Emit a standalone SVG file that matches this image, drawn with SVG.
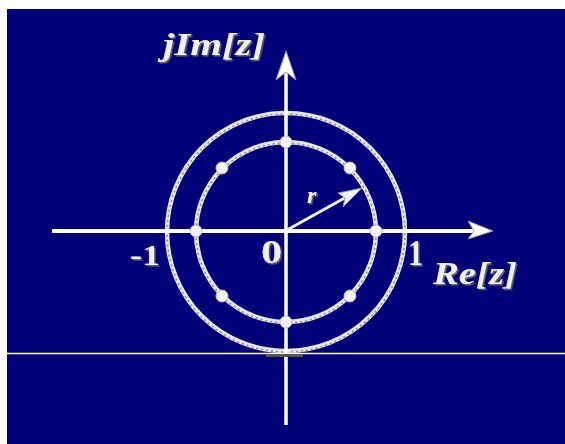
<svg xmlns="http://www.w3.org/2000/svg" width="565" height="444" viewBox="0 0 565 444">
<defs>
<filter id="ds" x="-10%" y="-10%" width="130%" height="130%">
<feDropShadow dx="1.5" dy="1.5" stdDeviation="0.4" flood-color="#6a6a6a" flood-opacity="1"/>
</filter>
</defs>
<style>
.ax{stroke:#ffffff;stroke-width:4;fill:none}
.circ{fill:none;stroke:#e6e6e6;stroke-width:4.5}
.shade{fill:none;stroke:#8a8a8a;stroke-width:1.5;stroke-dasharray:2 3}
.dot{fill:#f2f2f2;stroke:#bdbdbd;stroke-width:1}
.lbl{font-family:"Liberation Serif",serif;font-weight:bold;fill:#f0f0f0;filter:url(#ds)}
.it{font-style:italic}
</style>
<rect x="0" y="0" width="565" height="444" fill="#ffffff"/>
<rect x="7" y="9" width="558" height="435" fill="#000078"/>
<line x1="7" y1="353.5" x2="565" y2="353.5" stroke="#ffffff" stroke-width="1.5"/>
<g id="circles">
<circle class="circ" cx="286" cy="232" r="119"/>
<circle class="shade" cx="286" cy="233" r="119"/>
<circle class="circ" cx="286" cy="232" r="90"/>
<circle class="shade" cx="286" cy="233" r="90"/>
</g>
<g id="axes">
<line class="ax" x1="52" y1="231" x2="480" y2="231"/>
<polygon points="493,231 468,221 474,231 468,239" fill="#ffffff" stroke="#9a9a9a" stroke-width="1"/>
<line class="ax" style="stroke-width:3.5" x1="286" y1="68" x2="286" y2="425"/>
<polygon points="286,51 276,80 286,72 296,80" fill="#ffffff" stroke="#9a9a9a" stroke-width="1"/>
<rect x="266" y="354" width="37" height="3" fill="#555555"/>
</g>
<g id="points">
<circle class="dot" cx="286" cy="142" r="6"/>
<circle class="dot" cx="350" cy="168" r="6"/>
<circle class="dot" cx="376" cy="231" r="6"/>
<circle class="dot" cx="350" cy="296" r="6"/>
<circle class="dot" cx="286" cy="322" r="6"/>
<circle class="dot" cx="222" cy="296" r="6"/>
<circle class="dot" cx="196" cy="231" r="6"/>
<circle class="dot" cx="222" cy="168" r="6"/>
</g>
<g id="radius">
<line x1="287" y1="230" x2="350" y2="195" stroke="#f0f0f0" stroke-width="3"/>
<polygon points="362,188 338,193 345,198 343,207" fill="#f0f0f0" stroke="#9a9a9a" stroke-width="1"/>
</g>
<g id="labels">
<text class="lbl it" x="163" y="55" font-size="32" textLength="102" lengthAdjust="spacingAndGlyphs">jIm[z]</text>
<text class="lbl it" x="433" y="284" font-size="32" textLength="84" lengthAdjust="spacingAndGlyphs">Re[z]</text>
<text class="lbl it" x="307" y="203" font-size="24">r</text>
<text class="lbl" x="130" y="265" font-size="30" textLength="30" lengthAdjust="spacingAndGlyphs">-1</text>
<text class="lbl" x="261" y="263" font-size="34" textLength="21" lengthAdjust="spacingAndGlyphs">0</text>
<text class="lbl" x="408" y="265" font-size="36" textLength="15" lengthAdjust="spacingAndGlyphs">1</text>
</g>
</svg>
